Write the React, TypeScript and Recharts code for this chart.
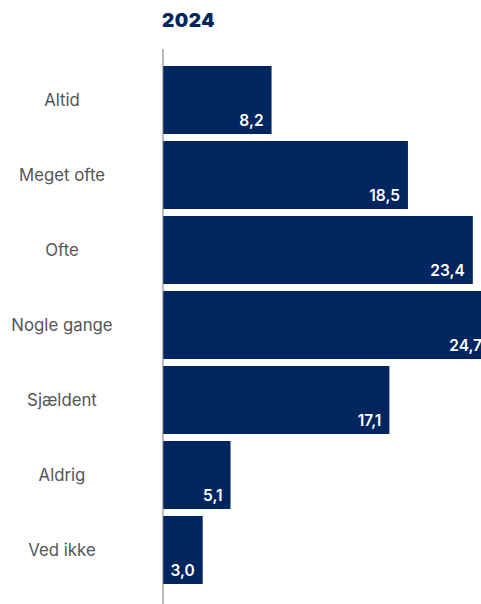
import { BarChart, Bar, XAxis, YAxis, LabelList } from 'recharts';

const categories = ['Altid', 'Meget ofte', 'Ofte', 'Nogle gange', 'Sjældent', 'Aldrig', 'Ved ikke'];
const values = [8.2, 18.5, 23.4, 24.7, 17.1, 5.1, 3.0];
const title = '2024';

const data = categories.map((name, i) => ({ name, value: values[i] }));

const NAVY = '#002660';
const FONT = 'Inter, "Liberation Sans", sans-serif';

const CategoryTick = (props: any) => {
  const { y, payload } = props;
  return (
    <text
      x={62}
      y={y}
      dy={6}
      textAnchor="middle"
      fill="#555555"
      fontSize={16.8}
      fontFamily={FONT}
    >
      {payload.value}
    </text>
  );
};

const ValueLabel = (props: any) => {
  const { x, y, width, height, value } = props;
  const text = Number(value).toFixed(1).replace('.', ',');
  const textW = text.length * 8.3;
  let tx = x + width - 8;
  if (tx - textW < x + 6) tx = x + 6 + textW;
  return (
    <text
      x={tx}
      y={y + height - 8}
      textAnchor="end"
      fill="#ffffff"
      fontSize={15.5}
      fontWeight={600}
      fontFamily={FONT}
    >
      {text}
    </text>
  );
};

export default function App() {
  return (
    <div
      style={{
        position: 'absolute',
        left: 0,
        top: 0,
        width: 481,
        height: 604,
        overflow: 'hidden',
        background: '#ffffff',
      }}
    >
      <div
        style={{
          position: 'absolute',
          left: 162,
          top: 8,
          fontFamily: FONT,
          fontWeight: 900,
          fontSize: 19,
          letterSpacing: 0.5,
          color: NAVY,
          lineHeight: '26px',
        }}
      >
        {title}
      </div>
      <BarChart
        width={494}
        height={604}
        data={data}
        layout="vertical"
        margin={{ top: 49, right: 0, bottom: 0, left: 8 }}
      >
        <XAxis type="number" domain={[0, 25]} hide />
        <YAxis
          type="category"
          dataKey="name"
          width={155}
          padding={{ top: 13, bottom: 17 }}
          axisLine={{ stroke: '#777777', strokeWidth: 1 }}
          tickLine={false}
          tick={<CategoryTick />}
          interval={0}
        />
        <Bar dataKey="value" fill={NAVY} barSize={68} isAnimationActive={false}>
          <LabelList dataKey="value" content={<ValueLabel />} />
        </Bar>
      </BarChart>
    </div>
  );
}
